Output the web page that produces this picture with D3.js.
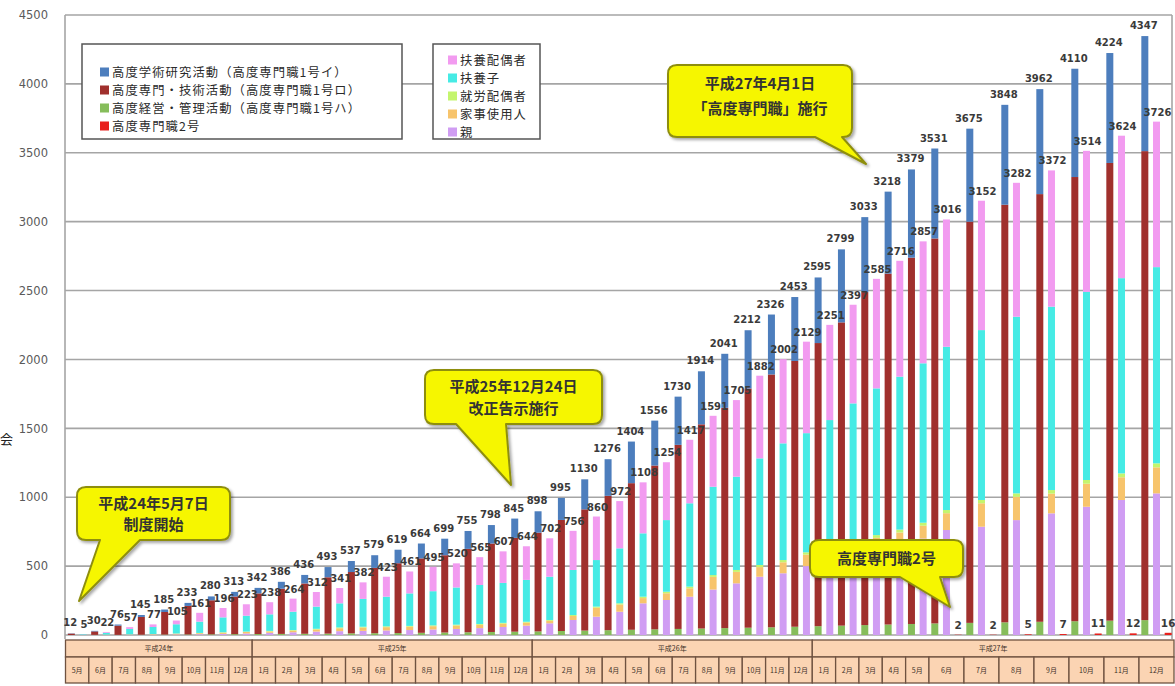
<!DOCTYPE html>
<html>
<head>
<meta charset="utf-8">
<script src="https://cdn.jsdelivr.net/npm/d3@7"></script>
<style>
  html, body { margin: 0; padding: 0; background: #fff; }
  svg { display: block; }
</style>
</head>
<body>
<svg id="chart" width="1175" height="686"></svg>
<script>
// ---- data -------------------------------------------------------------
const yearLabels = ["平成24年", "平成25年", "平成26年", "平成27年"];
const monthLabels = [
  "5月","6月","7月","8月","9月","10月","11月","12月",
  "1月","2月","3月","4月","5月","6月","7月","8月","9月","10月","11月","12月",
  "1月","2月","3月","4月","5月","6月","7月","8月","9月","10月","11月","12月",
  "1月","2月","3月","4月","5月","6月","7月","8月","9月","10月","11月","12月"
];
const monthYear = [
  0,0,0,0,0,0,0,0,
  1,1,1,1,1,1,1,1,1,1,1,1,
  2,2,2,2,2,2,2,2,2,2,2,2,
  3,3,3,3,3,3,3,3,3,3,3,3
];

// 高度学術研究活動（1号イ）
const gakujutsu = [2,4,8,14,18,22,28,34, 40,50,62,74,80,92,98,108,120,130,134,140,
  155,160,218,266,302,326,350,385,392,423,435,464, 476,530,544,595,640,653,675,725,762,786,798,835];
// 高度専門・技術活動（1号ロ）
const senmon = [10,25,67,129,164,207,247,273, 295,328,365,409,445,474,507,540,561,605,642,681,
  717,806,880,975,1064,1189,1336,1482,1599,1736,1835,1929, 2055,2201,2417,2547,2659,2794,2912,3031,3104,3224,3322,3404];
// 高度経営・管理活動（1号ハ）
const keiei = [0,1,1,2,3,4,5,6, 7,8,9,10,12,13,14,16,18,20,22,24,
  26,29,32,35,38,41,44,47,50,53,56,60, 64,68,72,76,80,84,88,92,96,100,104,108];
// 高度専門職2号 (null = category not yet in force)
const senmon2 = [null,null,null,null,null,null,null,null,
  null,null,null,null,null,null,null,null,null,null,null,null,
  null,null,null,null,null,null,null,null,null,null,null,null,
  null,null,null,null,null,2,2,5,7,11,12,16];

// family members
const haiguusha = [1,6,13,19,27,64,68,83, 88,95,106,111,120,145,159,177,175,202,229,244,
  279,284,316,343,370,420,461,515,556,600,611,664, 691,716,795,841,885,924,939,972,989,1024,1034,1056];
const fuyouShi = [4,13,39,51,67,82,108,115, 120,133,161,175,202,215,236,248,270,283,290,304,
  314,327,338,399,460,520,605,641,677,774,847,865, 920,1001,1065,1110,1157,1185,1233,1282,1331,1365,1417,1424];
const shurouHaiguusha = [0,1,1,1,2,2,3,3, 4,4,5,6,6,6,6,6,6,6,6,6,
  6,7,8,9,10,11,12,13,14,15,16,17, 18,19,20,21,22,23,24,25,26,27,28,29];
const kajiShiyounin = [0,1,2,3,5,7,9,11, 10,12,15,21,24,24,24,24,25,24,24,22,
  18,29,65,52,38,49,61,92,83,70,80,83, 82,86,90,94,93,122,170,169,143,167,165,189];
const oya = [0,1,2,3,4,6,8,11, 16,20,25,28,30,33,36,40,44,50,58,68,
  85,109,133,169,230,254,278,330,375,423,448,500, 540,575,615,650,700,762,786,834,883,931,980,1028];

const yTicks = [0,500,1000,1500,2000,2500,3000,3500,4000,4500];

// ---- series definitions ---------------------------------------------
const mainSeries = [
  { key: "keiei",     name: "高度経営・管理活動（高度専門職1号ハ）", color: "#86bd5b", values: keiei },
  { key: "senmon",    name: "高度専門・技術活動（高度専門職1号ロ）", color: "#a0302d", values: senmon },
  { key: "gakujutsu", name: "高度学術研究活動（高度専門職1号イ）",   color: "#4d7ebd", values: gakujutsu }
];
const no2Color = "#e8201c";
const familySeries = [
  { key: "oya",   name: "親",         color: "#d09df3", values: oya },
  { key: "kaji",  name: "家事使用人", color: "#f7c46c", values: kajiShiyounin },
  { key: "shuro", name: "就労配偶者", color: "#c4f56e", values: shurouHaiguusha },
  { key: "shi",   name: "扶養子",     color: "#46ebe5", values: fuyouShi },
  { key: "hai",   name: "扶養配偶者", color: "#f29bf0", values: haiguusha }
];

// ---- layout -----------------------------------------------------------
const svg = d3.select("#chart");
const plotLeft = 65, plotRight = 1172, plotTop = 15, plotBottom = 635;
const nMonths = monthLabels.length;

// one slot per bar: main, family, and 2号 when it exists
const slots = [];
for (let i = 0; i < nMonths; i++) {
  slots.push({ id: "m" + i, month: i, kind: "main" });
  slots.push({ id: "f" + i, month: i, kind: "family" });
  if (senmon2[i] !== null) slots.push({ id: "s" + i, month: i, kind: "no2" });
}

const x = d3.scaleBand()
  .domain(slots.map(s => s.id))
  .range([65.5, 1174])
  .paddingInner(0.4)
  .paddingOuter(0.2);

const y = d3.scaleLinear().domain([0, 4500]).range([plotBottom, plotTop]);

// ---- gridlines & frame -----------------------------------------------
const grid = svg.append("g");
grid.selectAll("line.h").data(yTicks).join("line")
  .attr("x1", plotLeft).attr("x2", plotRight)
  .attr("y1", d => y(d)).attr("y2", d => y(d))
  .attr("stroke", "#a5a5a5").attr("stroke-width", 1.6);
grid.append("line").attr("x1", plotLeft).attr("x2", plotLeft)
  .attr("y1", plotTop).attr("y2", plotBottom + 4)
  .attr("stroke", "#a5a5a5").attr("stroke-width", 1.6);
grid.append("line").attr("x1", plotRight).attr("x2", plotRight)
  .attr("y1", plotTop).attr("y2", plotBottom + 4)
  .attr("stroke", "#a5a5a5").attr("stroke-width", 1.6);

// y axis labels
const yAxis = svg.append("g")
  .attr("transform", "translate(50,0)")
  .call(d3.axisLeft(y).tickValues(yTicks).tickSize(0).tickPadding(2).tickFormat(d3.format("d")));
yAxis.select(".domain").remove();
yAxis.selectAll("text")
  .attr("font-family", "DejaVu Sans, sans-serif")
  .attr("font-size", 11.5)
  .attr("fill", "#5a5a5a");

// axis caption at the left edge
svg.append("text")
  .attr("x", 0).attr("y", 444)
  .attr("text-anchor", "start")
  .attr("font-family", "Noto Sans CJK JP, sans-serif")
  .attr("font-size", 13)
  .attr("fill", "#222")
  .text("会");

// ---- stacked bars -----------------------------------------------------
const rows = d3.range(nMonths).map(i => {
  const r = { month: i };
  mainSeries.forEach(s => r[s.key] = s.values[i]);
  familySeries.forEach(s => r[s.key] = s.values[i]);
  return r;
});

const mainStack = d3.stack().keys(mainSeries.map(s => s.key))(rows);
const famStack = d3.stack().keys(familySeries.map(s => s.key))(rows);

const bars = svg.append("g");
mainStack.forEach((layer, li) => {
  bars.append("g").attr("fill", mainSeries[li].color)
    .selectAll("rect").data(layer).join("rect")
    .attr("x", d => x("m" + d.data.month))
    .attr("width", x.bandwidth())
    .attr("y", d => y(d[1]))
    .attr("height", d => Math.max(0, y(d[0]) - y(d[1])));
});
famStack.forEach((layer, li) => {
  bars.append("g").attr("fill", familySeries[li].color)
    .selectAll("rect").data(layer).join("rect")
    .attr("x", d => x("f" + d.data.month))
    .attr("width", x.bandwidth())
    .attr("y", d => y(d[1]))
    .attr("height", d => Math.max(0, y(d[0]) - y(d[1])));
});
const no2Data = d3.range(nMonths).filter(i => senmon2[i] !== null);
bars.append("g").attr("fill", no2Color)
  .selectAll("rect").data(no2Data).join("rect")
  .attr("x", i => x("s" + i))
  .attr("width", x.bandwidth())
  .attr("y", i => y(senmon2[i]))
  .attr("height", i => y(0) - y(senmon2[i]));

// ---- value labels -----------------------------------------------------
const mainTotal = rows.map(r => d3.sum(mainSeries, s => r[s.key]));
const famTotal = rows.map(r => d3.sum(familySeries, s => r[s.key]));

const labels = svg.append("g")
  .attr("font-family", "DejaVu Sans, sans-serif")
  .attr("font-weight", "bold")
  .attr("font-size", 10)
  .attr("fill", "#3a3a3a")
  .attr("text-anchor", "middle");

labels.selectAll("text.main").data(d3.range(nMonths)).join("text")
  .attr("x", i => x("m" + i) + x.bandwidth() / 2 - 1)
  .attr("y", i => y(mainTotal[i]) - 7)
  .text(i => mainTotal[i]);
labels.selectAll("text.fam").data(d3.range(nMonths)).join("text")
  .attr("x", i => x("f" + i) + x.bandwidth() / 2 + 1)
  .attr("y", i => y(famTotal[i]) - 6)
  .text(i => famTotal[i]);
labels.selectAll("text.no2").data(no2Data).join("text")
  .attr("x", i => x("s" + i) + x.bandwidth() / 2)
  .attr("y", i => y(senmon2[i]) - 6)
  .attr("font-size", 10.5)
  .text(i => senmon2[i]);

// ---- month / year table under the axis -------------------------------
const step = x.step();
const half = step * x.paddingInner() / 2;
function monthSlots(i) { return slots.filter(s => s.month === i); }
function cellLeft(i) { return x(monthSlots(i)[0].id) - half; }
function cellRight(i) { const s = monthSlots(i); return x(s[s.length - 1].id) + x.bandwidth() + half; }

const table = svg.append("g");
const rowTop = 640, rowMid = 657, rowBot = 683;
const tableFill = "#fbd4b3", tableStroke = "#6f5240";

yearLabels.forEach((yl, yi) => {
  const ms = d3.range(nMonths).filter(i => monthYear[i] === yi);
  const x0 = cellLeft(ms[0]), x1 = cellRight(ms[ms.length - 1]);
  table.append("rect").attr("x", x0).attr("y", rowTop).attr("width", x1 - x0).attr("height", rowMid - rowTop)
    .attr("fill", tableFill).attr("stroke", tableStroke).attr("stroke-width", 1.3);
  table.append("text").attr("x", (x0 + x1) / 2).attr("y", (rowTop + rowMid) / 2 + 2.5)
    .attr("text-anchor", "middle").attr("font-family", "Noto Sans CJK JP, sans-serif")
    .attr("font-size", 7).attr("fill", "#3e3028").text(yl);
});
d3.range(nMonths).forEach(i => {
  const x0 = cellLeft(i), x1 = cellRight(i);
  table.append("rect").attr("x", x0).attr("y", rowMid).attr("width", x1 - x0).attr("height", rowBot - rowMid)
    .attr("fill", tableFill).attr("stroke", tableStroke).attr("stroke-width", 1.3);
  table.append("text").attr("x", (x0 + x1) / 2).attr("y", (rowMid + rowBot) / 2 + 2.5)
    .attr("text-anchor", "middle").attr("font-family", "Noto Sans CJK JP, sans-serif")
    .attr("font-size", 7).attr("fill", "#3e3028").text(monthLabels[i]);
});

// ---- legends ----------------------------------------------------------
function legendBox(x0, y0, w, h, items, rowY0, rowGap, swX) {
  const g = svg.append("g");
  g.append("rect").attr("x", x0).attr("y", y0).attr("width", w).attr("height", h)
    .attr("fill", "#fff").attr("stroke", "#555").attr("stroke-width", 1.5);
  items.forEach((it, k) => {
    const cy = rowY0 + k * rowGap;
    g.append("rect").attr("x", swX).attr("y", cy - 4.5).attr("width", 9).attr("height", 9).attr("fill", it.color);
    g.append("text").attr("x", swX + 12).attr("y", cy + 4.5)
      .attr("font-family", "Noto Sans CJK JP, sans-serif").attr("font-size", 12.3)
      .attr("letter-spacing", 1.1)
      .attr("fill", "#2a2a2a").text(it.name);
  });
}
legendBox(82, 44, 320, 95, [
  { name: mainSeries[2].name, color: mainSeries[2].color },
  { name: mainSeries[1].name, color: mainSeries[1].color },
  { name: mainSeries[0].name, color: mainSeries[0].color },
  { name: "高度専門職2号", color: no2Color }
], 72, 18, 100);
legendBox(433, 44, 107, 95, familySeries.slice().reverse().map(s => ({ name: s.name, color: s.color })),
  60, 18, 448);

// ---- callouts ---------------------------------------------------------
function bubblePath(bx, by, bw, bh, r, t1, t2, tipX, tipY) {
  const b = by + bh;
  return `M${bx + r},${by} L${bx + bw - r},${by} Q${bx + bw},${by} ${bx + bw},${by + r}` +
    ` L${bx + bw},${b - r} Q${bx + bw},${b} ${bx + bw - r},${b}` +
    ` L${t2},${b} L${tipX},${tipY} L${t1},${b}` +
    ` L${bx + r},${b} Q${bx},${b} ${bx},${b - r} L${bx},${by + r} Q${bx},${by} ${bx + r},${by} Z`;
}
const defs = svg.append("defs");
const f = defs.append("filter").attr("id", "shadow").attr("x", "-10%").attr("y", "-10%").attr("width", "130%").attr("height", "140%");
f.append("feDropShadow").attr("dx", 2).attr("dy", 2).attr("stdDeviation", 1.5).attr("flood-color", "#000").attr("flood-opacity", 0.35);

function callout(bx, by, bw, bh, t1, t2, tipX, tipY, lines, lineYs) {
  const g = svg.append("g");
  g.append("path").attr("d", bubblePath(bx, by, bw, bh, 9, t1, t2, tipX, tipY))
    .attr("fill", "#f6f600").attr("stroke", "#8e8e10").attr("stroke-width", 2)
    .attr("stroke-linejoin", "round").attr("filter", "url(#shadow)");
  lines.forEach((ln, k) => {
    g.append("text").attr("x", bx + bw / 2).attr("y", lineYs[k])
      .attr("text-anchor", "middle").attr("font-family", "Noto Sans CJK JP, sans-serif")
      .attr("font-weight", "bold").attr("font-size", 15).attr("fill", "#333")
      .text(ln);
  });
}
callout(77, 487, 153, 53, 100, 140, 79, 601, ["平成24年5月7日", "制度開始"], [509, 530]);
callout(425, 370, 177, 54, 456, 506, 511, 485, ["平成25年12月24日", "改正告示施行"], [392, 414]);
callout(668, 65, 184, 72, 815, 842, 866, 164, ["平成27年4月1日", "「高度専門職」施行"], [89, 114]);
callout(810, 540, 153, 37, 900, 940, 950, 607, ["高度専門職2号"], [564]);
</script>
</body>
</html>
